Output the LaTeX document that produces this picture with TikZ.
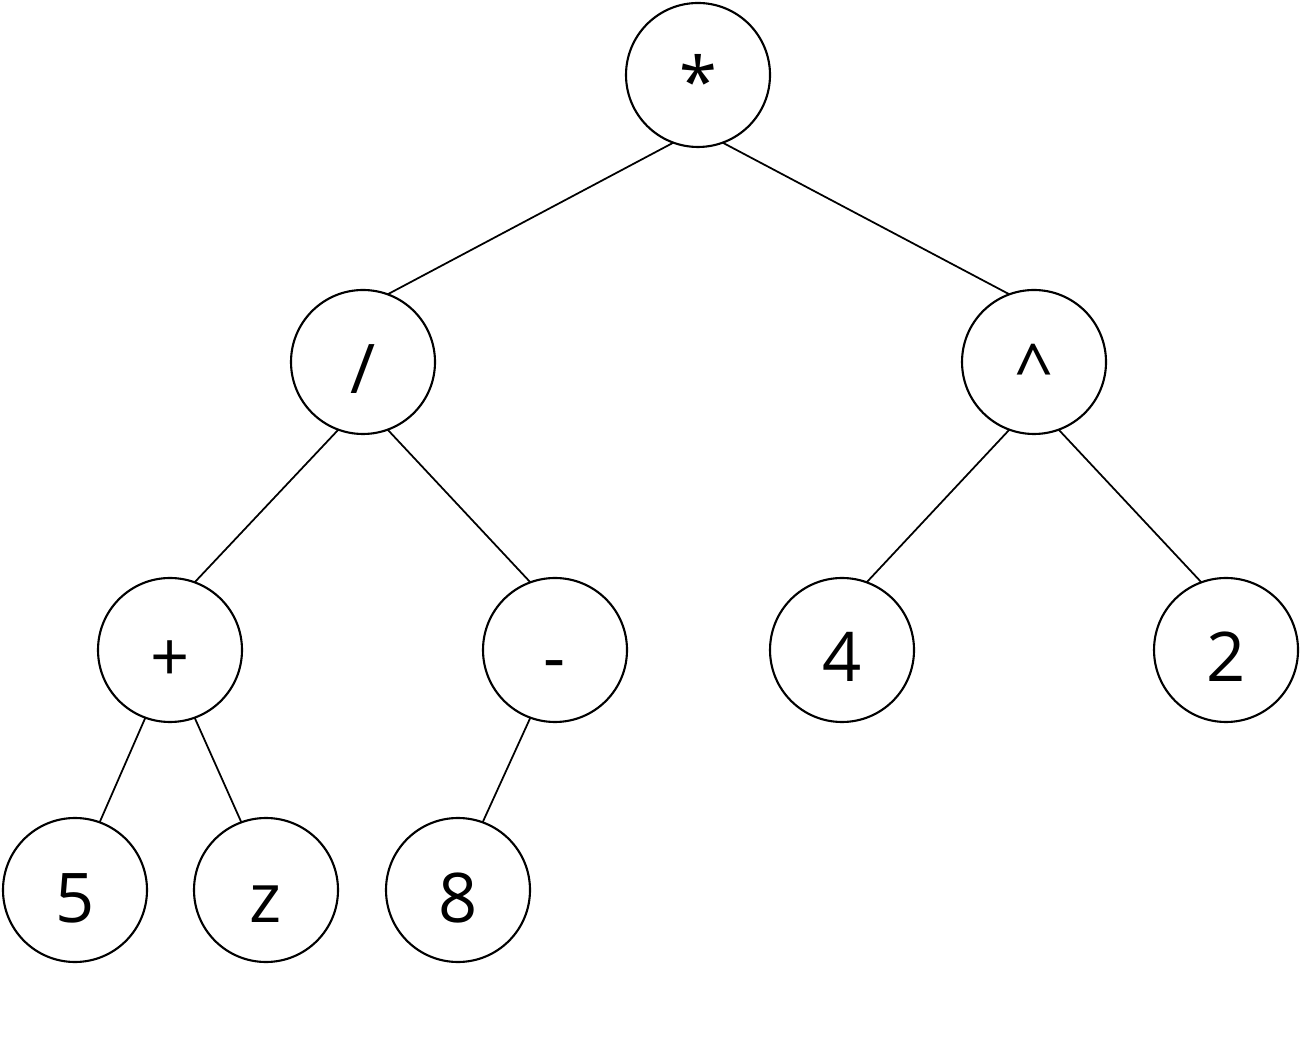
\documentclass[tikz,border=0pt]{standalone}
\usepackage{fontspec}
\setmainfont{Open Sans}
\usepackage{tikz}

\begin{document}
\begin{tikzpicture}[
  op/.style={draw, circle, line width=0.6pt, minimum size=1.44cm, inner sep=0pt, outer sep=0pt,
    font=\fontsize{19.5}{22}\selectfont, text height=0.64cm, text depth=0cm},
  edge/.style={line width=0.5pt}]
\useasboundingbox (0,0) rectangle (13,10.54);
\node[op] (times) at (6.98,9.79) {*};
\node[op] (div) at (3.63,6.92) {/};
\node[op] (pow) at (10.34,6.92) {\textasciicircum};
\node[op] (plus) at (1.70,4.04) {+};
\node[op] (minus) at (5.55,4.04) {-};
\node[op] (four) at (8.42,4.04) {4};
\node[op] (two) at (12.26,4.04) {2};
\node[op] (five) at (0.75,1.64) {5};
\node[op] (z) at (2.66,1.64) {z};
\node[op] (eight) at (4.58,1.64) {8};
\draw[edge] (times.250) -- (div.70);
\draw[edge] (times.290) -- (pow.110);
\draw[edge] (div.250) -- (plus.70);
\draw[edge] (div.290) -- (minus.110);
\draw[edge] (pow.250) -- (four.70);
\draw[edge] (pow.290) -- (two.110);
\draw[edge] (plus.250) -- (five.70);
\draw[edge] (plus.290) -- (z.110);
\draw[edge] (minus.250) -- (eight.70);
\end{tikzpicture}
\end{document}
